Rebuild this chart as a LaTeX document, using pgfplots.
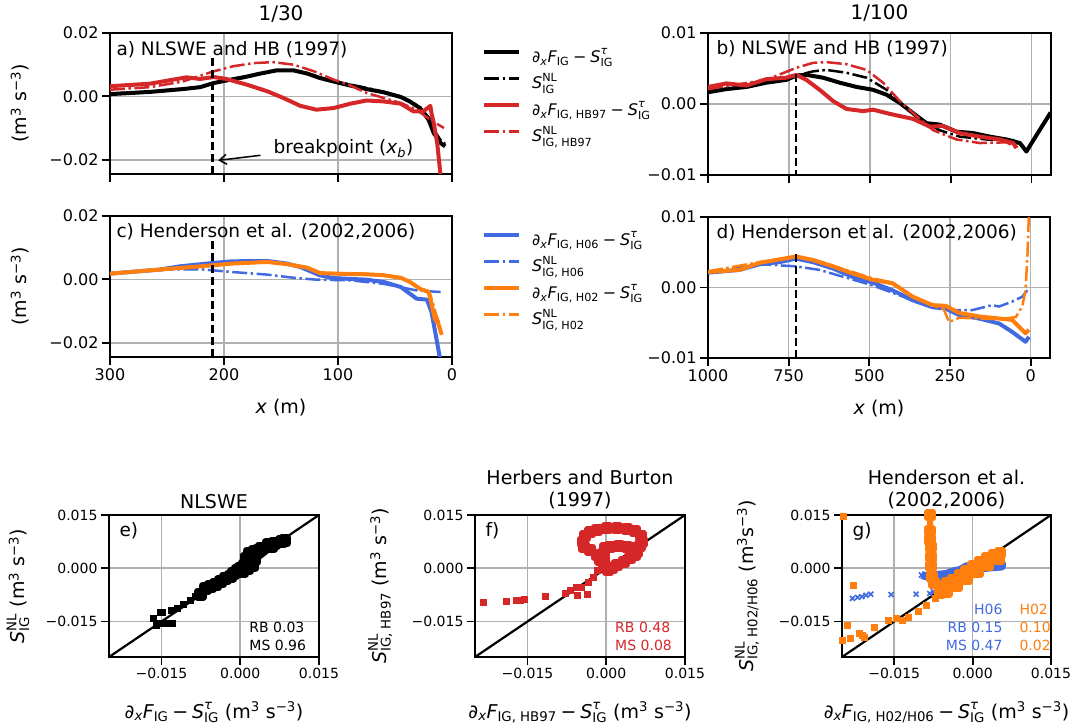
\documentclass[border=0pt]{standalone}
\usepackage{amsmath}
\usepackage{fontspec}
\setmainfont{DejaVu Sans}
\usepackage{pgfplots}
\pgfplotsset{compat=1.18}
\usetikzlibrary{arrows.meta}

\definecolor{tred}{HTML}{D62728}
\definecolor{tblue}{HTML}{4169E1}
\definecolor{torange}{HTML}{FF7F0E}
\definecolor{gridgray}{HTML}{B0B0B0}

\newcommand{\mn}{\mathbin{\text{−}}}
\newcommand{\dxF}[1]{\textit{∂}_{\textit{x}}\textit{F}_{\text{#1}}}
\newcommand{\Stau}{\textit{S}^{\textit{τ}}_{\text{IG}}}
\newcommand{\SNL}[1]{\textit{S}^{\text{NL}}_{\text{#1}}}
\newcommand{\unit}{(m\textsuperscript{3} s\textsuperscript{−3})}

\tikzset{
  plab/.style={anchor=base west, font=\fontsize{18.5}{22}\selectfont},
  stat/.style={font=\fontsize{14}{17}\selectfont},
}
\pgfplotsset{
  every axis title shift=0pt,
  panel/.style={
    scale only axis, anchor=south west, clip=true,
    axis line style={line width=1.8pt},
    tick style={black, line width=1.8pt},
    major tick length=8pt,
    tick align=outside, tick pos=left,
    grid=major, grid style={gridgray, line width=1.6pt},
    scaled ticks=false,
    ylabel style={anchor=center, font=\fontsize{19}{23}\selectfont},
    xlabel style={anchor=base, font=\fontsize{19}{23}\selectfont},
  },
  top/.style={panel, width=342pt, height=141pt,
    ticklabel style={font=\fontsize{16}{19}\selectfont},
    title style={font=\fontsize{20}{24}\selectfont, at={(0.5,1.092)}, anchor=base, yshift=0pt},
    xlabel style={at={(axis description cs:0.5,-0.404)}},
  },
  sc/.style={panel, width=210pt, height=142pt,
    xmin=-0.025, xmax=0.015, ymin=-0.025, ymax=0.015,
    xtick={-0.015,0,0.015}, ytick={-0.015,0,0.015},
    xticklabels={−0.015,0.000,0.015}, yticklabels={−0.015,0.000,0.015},
    ticklabel style={font=\fontsize{14}{17}\selectfont},
    title style={font=\fontsize{19}{22}\selectfont, align=center, at={(0.5,1.0845)}, anchor=south, inner sep=0pt, yshift=-6pt},
    xlabel style={at={(axis description cs:0.5,-0.43)}},
  },
  leg/.style={legend style={draw=none, fill=none, font=\fontsize{16}{19}\selectfont,
      at={(1,0.5)}, anchor=west, xshift=30pt, yshift=6pt, inner sep=0pt,
      nodes={inner sep=0pt, text height=18pt, text depth=8.5pt},
      column sep=11pt, row sep=0pt},
    legend cell align=left,
    legend image code/.code={\draw[##1] (0pt,5.5pt) -- (35pt,5.5pt);}},
  ddot/.style={dash pattern=on 15pt off 3.5pt on 2.5pt off 3.5pt, line width=2.5pt},
  sol/.style={line width=4pt, line join=round},
  bp/.style={black, line width=2.3pt, dash pattern=on 8pt off 4pt, forget plot},
}

\begin{document}
\begin{tikzpicture}

% ---------------- a) 1/30, NLSWE and HB97
\begin{axis}[top, leg, at={(110pt,554pt)},
  x dir=reverse, xmin=0, xmax=300, ymin=-0.0245, ymax=0.02,
  xtick={0,100,200,300}, xticklabels={},
  ytick={-0.02,0,0.02}, yticklabels={−0.02,0.00,0.02},
  ylabel={\unit}, ylabel style={at={(axis description cs:-0.263,0.5)}},
  title={1/30}]
\addplot[black, sol] coordinates {
(300,0.0007) (265,0.0014) (236,0.0023) (221,0.0029) (209,0.0042) (198,0.0050)
(183,0.0060) (168,0.0072) (154,0.0082) (139,0.0082) (127,0.0072) (116,0.0058)
(104,0.0047) (89,0.0034) (75,0.0023) (60,0.0013) (45,-0.0002) (37,-0.0016)
(28,-0.0037) (20.5,-0.0074) (16,-0.0116) (10,-0.0147) (6,-0.0158)};
\addlegendentry{$\dxF{IG}\mn\Stau$}
\addplot[black, ddot] coordinates {
(300,0.0009) (265,0.0015) (236,0.0024) (221,0.0030) (209,0.0043) (198,0.0051)
(183,0.0062) (168,0.0073) (154,0.0081) (139,0.0081) (127,0.0073) (116,0.0060)
(104,0.0049) (89,0.0037) (75,0.0027) (60,0.0014) (45,0.0000) (37,-0.0014)
(28,-0.0035) (20,-0.0068) (16,-0.0105) (10,-0.0138) (6,-0.0150)};
\addlegendentry{$\SNL{IG}$}
\addplot[tred, sol] coordinates {
(300,0.0032) (265,0.0040) (241,0.0055) (233,0.0060) (221,0.0055) (209,0.0061)
(198,0.0055) (180,0.0037) (162,0.0016) (148,-0.0005) (133,-0.0030) (119,-0.0042)
(104,-0.0037) (89,-0.0023) (75,-0.0013) (60,-0.0016) (45,-0.0023) (34,-0.0047)
(25,-0.0047) (19,-0.0030) (18,-0.0053) (16,-0.0084) (13,-0.0147) (10,-0.0250)};
\addlegendentry{$\dxF{IG, HB97}\mn\Stau$}
\addplot[tred, ddot] coordinates {
(300,0.0021) (265,0.0029) (236,0.0047) (209,0.0079) (192,0.0095) (174,0.0105)
(157,0.0108) (139,0.0100) (121,0.0079) (104,0.0053) (89,0.0034) (75,0.0011)
(60,-0.0005) (45,-0.0021) (31,-0.0042) (19,-0.0074) (7,-0.0100)};
\addlegendentry{$\SNL{IG, HB97}$}
\addplot[bp] coordinates {(210,0.012) (210,-0.03)};
\node[plab] at ([xshift=3pt,yshift=-23pt]axis description cs:0,1) {a) NLSWE and HB (1997)};
\draw[-{Straight Barb[length=7pt,width=10pt]}, line width=1.5pt] (axis cs:168,-0.0186) -- (axis cs:205,-0.0202);
\node[anchor=base west, font=\fontsize{18.5}{22}\selectfont] at (axis cs:159.5,-0.0181) {breakpoint (\textit{x}\textsubscript{\textit{b}})};
\end{axis}

% ---------------- b) 1/100, NLSWE and HB97
\begin{axis}[top, at={(708pt,553pt)}, width=343pt, height=142pt,
  x dir=reverse, xmin=-60, xmax=1000, ymin=-0.01, ymax=0.01,
  xtick={0,250,500,750,1000}, xticklabels={},
  ytick={-0.01,0,0.01}, yticklabels={−0.01,0.00,0.01},
  title={1/100}]
\addplot[black, sol] coordinates {
(1000,0.00165) (943,0.0021) (881,0.0024) (820,0.0030) (758,0.0034) (727,0.0040)
(696,0.0041) (644,0.0037) (593,0.0030) (541,0.0024) (490,0.0020) (448,0.0013)
(407,0.00014) (366,-0.0013) (325,-0.0027) (284,-0.0029) (232,-0.0039) (180,-0.0041)
(129,-0.0046) (77,-0.0050) (36,-0.0055) (16,-0.0067) (0,-0.0055) (-26,-0.0036) (-59,-0.0012)};
\addplot[black, ddot] coordinates {
(1000,0.0018) (881,0.0025) (758,0.0035) (727,0.0040) (675,0.0046) (634,0.0048)
(572,0.0044) (510,0.0037) (448,0.0020) (397,-0.0003) (345,-0.0022) (284,-0.0037)
(222,-0.0046) (139,-0.0050) (57,-0.0051) (26,-0.0060)};
\addplot[tred, sol] coordinates {
(1000,0.0024) (943,0.0029) (881,0.0026) (820,0.0035) (758,0.0037) (727,0.0041)
(696,0.0034) (655,0.0020) (613,0.0004) (572,-0.0007) (521,-0.0010) (490,-0.0008)
(428,-0.0015) (366,-0.0021) (314,-0.0032) (273,-0.0031) (222,-0.0041) (160,-0.0046)
(98,-0.0050) (57,-0.0055) (46,-0.0062)};
\addplot[tred, ddot] coordinates {
(1000,0.0021) (820,0.0034) (727,0.0051) (675,0.0058) (634,0.0059) (572,0.0056)
(510,0.0048) (459,0.0030) (407,0.0004) (356,-0.0017) (304,-0.0037) (232,-0.0050)
(160,-0.0055) (77,-0.0054) (46,-0.0062)};
\addplot[bp] coordinates {(727,0.0042) (727,-0.012)};
\node[plab] at ([xshift=5pt,yshift=-22pt]axis description cs:0,1) {b) NLSWE and HB (1997)};
\end{axis}

% ---------------- c) 1/30, Henderson
\begin{axis}[top, leg, at={(110pt,371pt)},
  x dir=reverse, xmin=0, xmax=300, ymin=-0.0245, ymax=0.02,
  xtick={0,100,200,300}, xticklabels={0,100,200,300},
  ytick={-0.02,0,0.02}, yticklabels={−0.02,0.00,0.02},
  ylabel={\unit}, ylabel style={at={(axis description cs:-0.263,0.5)}},
  xlabel={\textit{x} (m)}]
\addplot[tblue, sol] coordinates {
(300,0.0018) (256,0.0031) (239,0.0041) (209,0.0052) (192,0.0057) (162,0.0058)
(145,0.0050) (133,0.0039) (116,0.0013) (104,0.0004) (75,-0.0001) (60,-0.0008)
(45,-0.0024) (37,-0.0045) (31,-0.0061) (22,-0.0064) (18,-0.0103) (15,-0.0161)
(12,-0.0220) (10,-0.0260)};
\addlegendentry{$\dxF{IG, H06}\mn\Stau$}
\addplot[tblue, ddot] coordinates {
(300,0.0018) (250,0.0031) (221,0.0032) (192,0.0023) (162,0.0015) (139,0.0005)
(119,-0.0001) (89,-0.0003) (60,-0.0014) (31,-0.0035) (10,-0.0040)};
\addlegendentry{$\SNL{IG, H06}$}
\addplot[torange, sol] coordinates {
(300,0.0018) (256,0.0031) (221,0.0041) (192,0.0050) (162,0.0055) (145,0.0048)
(127,0.0037) (116,0.0020) (104,0.0018) (75,0.0016) (60,0.0013) (45,0.0005)
(37,-0.0008) (28,-0.0030) (20.5,-0.0040) (18,-0.0077) (15,-0.0125) (12,-0.0140) (9,-0.0175)};
\addlegendentry{$\dxF{IG, H02}\mn\Stau$}
\addplot[torange, ddot] coordinates {
(300,0.0019) (256,0.0032) (221,0.0042) (192,0.0051) (162,0.0056) (145,0.0049)
(127,0.0038) (116,0.0022) (104,0.0020) (75,0.0018) (60,0.0014) (45,0.0006)
(37,-0.0006) (28,-0.0028) (20,-0.0038) (17,-0.0070) (14,-0.0110) (10,-0.0150)};
\addlegendentry{$\SNL{IG, H02}$}
\addplot[bp] coordinates {(210,0.012) (210,-0.03)};
\node[plab] at ([xshift=3pt,yshift=-22pt]axis description cs:0,1) {c) Henderson et al. (2002,2006)};
\end{axis}

% ---------------- d) 1/100, Henderson
\begin{axis}[top, at={(708pt,370pt)},
  x dir=reverse, xmin=-60, xmax=1000, ymin=-0.01, ymax=0.01,
  xtick={0,250,500,750,1000}, xticklabels={0,250,500,750,1000},
  ytick={-0.01,0,0.01}, yticklabels={−0.01,0.00,0.01},
  xlabel={\textit{x} (m)}]
\addplot[tblue, sol] coordinates {
(1000,0.0021) (902,0.0025) (840,0.0033) (778,0.0036) (727,0.0041) (675,0.0036)
(613,0.0027) (552,0.0015) (490,0.0007) (428,-0.0004) (366,-0.0018) (304,-0.0028)
(263,-0.0030) (222,-0.0039) (160,-0.0044) (98,-0.0051) (57,-0.0063) (16,-0.0077) (5,-0.0070)};
\addplot[tblue, ddot] coordinates {
(1000,0.0021) (840,0.0033) (727,0.0030) (655,0.0025) (572,0.0014) (490,0.0003)
(407,-0.0011) (325,-0.0025) (242,-0.0032) (180,-0.0032) (119,-0.0025) (98,-0.0027)
(57,-0.0020) (26,-0.0013) (10,-0.0004)};
\addplot[torange, sol] coordinates {
(1000,0.0022) (902,0.0025) (840,0.0035) (727,0.0044) (675,0.0039) (613,0.0030)
(552,0.0020) (490,0.0011) (428,0.0006) (366,-0.0013) (304,-0.0025) (263,-0.0026)
(222,-0.0036) (160,-0.0041) (98,-0.0044) (57,-0.0046) (16,-0.0065) (5,-0.0060)};
\addplot[torange, ddot] coordinates {
(1000,0.0023) (840,0.0036) (727,0.0044) (675,0.0040) (613,0.0031) (552,0.0022)
(490,0.0013) (428,0.0007) (366,-0.0012) (304,-0.0026) (270,-0.0030) (253,-0.0049)
(222,-0.0043) (160,-0.0044) (98,-0.0045) (46,-0.0042) (26,-0.0027) (16,-0.0004)
(10,0.0044) (5,0.0110)};
\addplot[bp] coordinates {(727,0.0048) (727,-0.012)};
\node[plab] at ([xshift=5pt,yshift=-22pt]axis description cs:0,1) {d) Henderson et al. (2002,2006)};
\end{axis}

% ---------------- e) NLSWE scatter
\begin{axis}[sc, at={(109pt,71pt)},
  title={NLSWE},
  xlabel={$\dxF{IG}\mn\Stau$ \unit},
  ylabel={$\SNL{IG}$ \unit}, ylabel style={at={(axis description cs:-0.433,0.5)}}]
\addplot[black, line width=2.2pt] coordinates {(-0.025,-0.025) (0.015,0.015)};
\addplot[black, only marks, mark=square*, mark size=3pt] coordinates {
(-0.0166,-0.0140) (-0.0160,-0.0160) (-0.0155,-0.0155) (-0.0150,-0.0154) (-0.0143,-0.0154)
(-0.0137,-0.0154) (-0.0130,-0.0154) (-0.0153,-0.0125) (-0.0148,-0.0125) (-0.0131,-0.0118)
(-0.0121,-0.0113) (-0.0108,-0.0101) (-0.0095,-0.0091) (-0.0086,-0.0080)};
\addplot[black, line width=7pt, line join=round, mark=square*, mark size=3pt] coordinates {
(-0.0076,-0.0073) (-0.0066,-0.0057) (-0.0057,-0.0052) (-0.0047,-0.0047) (-0.0037,-0.0038)
(-0.0028,-0.0028) (-0.0018,-0.0022) (-0.0012,-0.0014) (-0.0005,-0.0005) (0.0001,0.0000)
(0.0008,0.0009) (0.0011,0.0028) (0.0017,0.0042) (0.0027,0.0047) (0.0034,0.0050)
(0.0040,0.0057) (0.0053,0.0066) (0.0066,0.0071) (0.0079,0.0075) (0.0085,0.0078)
(0.0060,0.0062) (0.0027,0.0024) (0.0024,0.0009) (0.0014,0.0000) (0.0005,-0.0009)};
\node[plab] at ([xshift=7pt,yshift=-22pt]axis description cs:0,1) {e)};
\node[stat, anchor=base west] at (axis description cs:0.652,0.171) {RB 0.03};
\node[stat, anchor=base west] at (axis description cs:0.652,0.049) {MS 0.96};
\end{axis}

% ---------------- f) HB97 scatter
\begin{axis}[sc, at={(475pt,71pt)},
  title={Herbers and Burton\\(1997)},
  xlabel={$\dxF{IG, HB97}\mn\Stau$ \unit},
  ylabel={$\SNL{IG, HB97}$ \unit}, ylabel style={at={(axis description cs:-0.452,0.5)}}]
\addplot[black, line width=2.2pt] coordinates {(-0.025,-0.025) (0.015,0.015)};
\addplot[tred, only marks, mark=square*, mark size=3pt] coordinates {
(-0.0234,-0.0097) (-0.0190,-0.0094) (-0.0171,-0.0091) (-0.0163,-0.0090) (-0.0157,-0.0088)
(-0.0117,-0.0080) (-0.0078,-0.0069) (-0.0069,-0.0061) (-0.0057,-0.0052) (-0.0056,-0.0075)
(-0.0047,-0.0052) (-0.0037,-0.0073) (-0.0034,-0.0038) (-0.0024,-0.0024) (-0.0018,-0.0005)};
\addplot[tred, line width=6pt, line join=round, mark=square*, mark size=3pt] coordinates {
(-0.0005,0.0005) (-0.0011,0.0024) (-0.0018,0.0038) (-0.0031,0.0052) (-0.0043,0.0061)
(-0.0045,0.0075) (-0.0040,0.0090) (-0.0031,0.0101) (-0.0018,0.0108) (0.0001,0.0112)
(0.0020,0.0112) (0.0039,0.0110) (0.0055,0.0104) (0.0066,0.0090) (0.0068,0.0075)
(0.0064,0.0063) (0.0059,0.0052) (0.0055,0.0038) (0.0046,0.0028) (0.0033,0.0019)
(0.0020,0.0009) (0.0011,0.0000) (0.0003,-0.0005) (-0.0002,0.0005) (-0.0005,0.0024)
(-0.0005,0.0042) (-0.0002,0.0057) (0.0008,0.0061) (0.0024,0.0063) (0.0039,0.0061)
(0.0052,0.0057) (0.0059,0.0047)};
\node[plab] at ([xshift=7pt,yshift=-22pt]axis description cs:0,1) {f)};
\node[stat, anchor=base west, tred] at (axis description cs:0.651,0.171) {RB 0.48};
\node[stat, anchor=base west, tred] at (axis description cs:0.651,0.049) {MS 0.08};
\end{axis}

% ---------------- g) Henderson scatter
\begin{axis}[sc, at={(842pt,71pt)}, width=209pt,
  title={Henderson et al.\\(2002,2006)},
  xlabel={$\dxF{IG, H02/H06}\mn\Stau$ \unit},
  ylabel={$\SNL{IG, H02/H06}$ (m\textsuperscript{3}s\textsuperscript{−3})}, ylabel style={at={(axis description cs:-0.4545,0.5)}}]
\addplot[black, line width=2.2pt] coordinates {(-0.025,-0.025) (0.015,0.015)};
\addplot[tblue, only marks, mark=x, mark size=3.5pt, line width=1.6pt] coordinates {
(-0.0230,-0.0085) (-0.0220,-0.0082) (-0.0212,-0.0080) (-0.0204,-0.0076) (-0.0195,-0.0073)
(-0.0156,-0.0074) (-0.0108,-0.0073) (-0.0082,-0.0071) (-0.0075,-0.0066)};
\addplot[tblue, line width=8pt, line join=round, mark=x, mark size=3.5pt, mark options={line width=1.6pt}] coordinates {
(-0.0098,-0.0019) (-0.0085,-0.0024) (-0.0069,-0.0019) (-0.0050,-0.0016) (-0.0037,-0.0009)
(-0.0024,-0.0005) (-0.0012,0.0005) (0.0001,0.0009) (0.0014,0.0012) (0.0027,0.0012)
(0.0040,0.0014) (0.0056,0.0014) (0.0056,0.0005) (0.0030,0.0002) (0.0010,-0.0003)
(-0.0010,-0.0012) (-0.0030,-0.0022) (-0.0050,-0.0030) (-0.0070,-0.0030)};
\addplot[torange, only marks, mark=square*, mark size=3pt] coordinates {
(-0.0248,0.0148) (-0.0229,-0.0049) (-0.0241,-0.0160) (-0.0249,-0.0203) (-0.0235,-0.0198)
(-0.0217,-0.0182) (-0.0212,-0.0188) (-0.0207,-0.0193) (-0.0188,-0.0165) (-0.0162,-0.0146)
(-0.0146,-0.0141) (-0.0134,-0.0146) (-0.0124,-0.0137) (-0.0105,-0.0120) (-0.0089,-0.0104)
(-0.0071,-0.0085)};
\addplot[torange, line width=6pt, line join=round, mark=square*, mark size=3pt] coordinates {
(-0.0081,0.0150) (-0.0082,0.0104) (-0.0081,0.0080) (-0.0080,0.0061) (-0.0079,0.0033)
(-0.0079,0.0005) (-0.0078,-0.0024) (-0.0073,-0.0042) (-0.0063,-0.0052) (-0.0050,-0.0042)
(-0.0037,-0.0033) (-0.0024,-0.0019) (-0.0012,-0.0009) (0.0001,0.0005) (0.0014,0.0019)
(0.0027,0.0028) (0.0040,0.0038) (0.0053,0.0042) (0.0050,0.0025) (0.0030,0.0010)
(0.0010,-0.0010) (-0.0010,-0.0030) (-0.0030,-0.0050) (-0.0050,-0.0066) (-0.0063,-0.0071)};
\node[plab] at ([xshift=7pt,yshift=-22pt]axis description cs:0,1) {g)};
\node[stat, anchor=base east, tblue] at (axis description cs:0.785,0.296) {H06};
\node[stat, anchor=base east, tblue] at (axis description cs:0.785,0.171) {RB 0.15};
\node[stat, anchor=base east, tblue] at (axis description cs:0.785,0.049) {MS 0.47};
\node[stat, anchor=base west, torange] at (axis description cs:0.8325,0.296) {H02};
\node[stat, anchor=base west, torange] at (axis description cs:0.8325,0.171) {0.10};
\node[stat, anchor=base west, torange] at (axis description cs:0.8325,0.049) {0.02};
\end{axis}

\pgfresetboundingbox
\path[use as bounding box] (0pt,0pt) rectangle (1090pt,728pt);
\end{tikzpicture}
\end{document}
